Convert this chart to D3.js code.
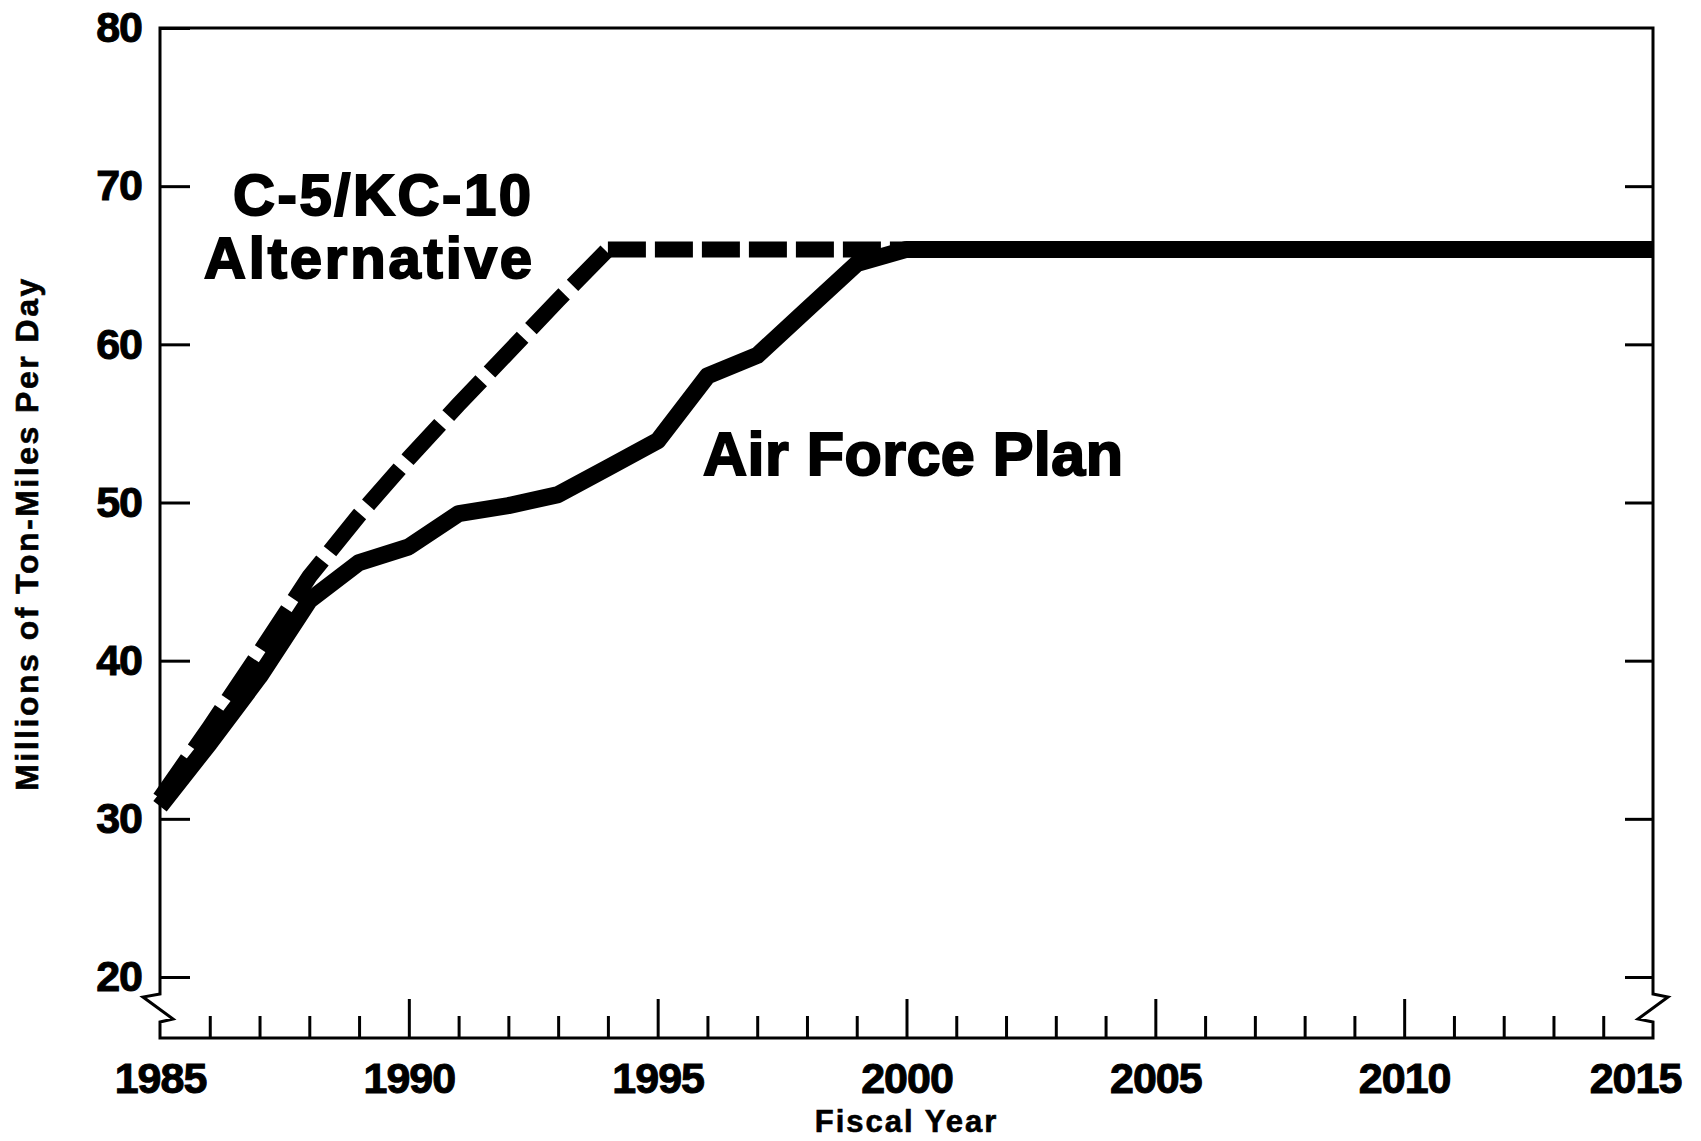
<!DOCTYPE html>
<html>
<head>
<meta charset="utf-8">
<script src="https://cdn.jsdelivr.net/npm/d3@7"></script>
<style>
  html, body { margin: 0; padding: 0; background: #fff; }
  svg { display: block; font-family: "Liberation Sans", Arial, sans-serif; font-weight: bold; }
</style>
</head>
<body>
<div id="mainDiv"></div>
<script>
// Values
let years = [1985, 1986, 1987, 1988, 1989, 1990, 1991, 1992, 1993, 1994,
  1995, 1996, 1997, 1998, 1999, 2000, 2001, 2002, 2003, 2004, 2005,
  2006, 2007, 2008, 2009, 2010, 2011, 2012, 2013, 2014, 2015];
let airForcePlan = [30.8, 34.8, 39.0, 43.8, 46.2, 47.2, 49.3, 49.8, 50.5, 52.2,
  53.9, 58.0, 59.3, 62.2, 65.1, 66.0, 66.0, 66.0, 66.0, 66.0, 66.0,
  66.0, 66.0, 66.0, 66.0, 66.0, 66.0, 66.0, 66.0, 66.0, 66.0];
let alternativeYears = [1985, 1986, 1987, 1988, 1989, 1990, 1991, 1992, 1993, 1994,
  1995, 1996, 1997, 1998, 1999, 2000];
let alternative = [31.3, 35.8, 40.5, 45.3, 49.2, 52.8, 56.2, 59.5, 62.8, 66.0,
  66.0, 66.0, 66.0, 66.0, 66.0, 66.0];
let yTicks = [20, 30, 40, 50, 60, 70, 80];
let majorYears = [1985, 1990, 1995, 2000, 2005, 2010, 2015];
let minorYears = [1986, 1987, 1988, 1989, 1991, 1992, 1993, 1994, 1996, 1997,
  1998, 1999, 2001, 2002, 2003, 2004, 2006, 2007, 2008, 2009, 2011, 2012,
  2013, 2014];

let chartSize = { width: 1701, height: 1141, left: 160, right: 1653, top: 28, y20: 977, bottom: 1038 };

const svg = d3.select("#mainDiv")
  .append("svg")
  .attr("width", chartSize.width)
  .attr("height", chartSize.height)
  .attr("viewBox", [0, 0, chartSize.width, chartSize.height]);

let x = d3.scaleLinear()
  .domain([1985, 2015])
  .range([chartSize.left, chartSize.right]);

let y = d3.scaleLinear()
  .domain([20, 80])
  .range([chartSize.y20, chartSize.top]);

// frame with axis breaks at the bottom corners
let x0 = x(1985), x1 = x(2015), yb = chartSize.bottom;
let frame = d3.path();
frame.moveTo(x0, yb);
frame.lineTo(x0, yb - 16);
frame.lineTo(x0 + 13, yb - 19);
frame.lineTo(x0 - 17, yb - 41);
frame.lineTo(x0, yb - 44);
frame.lineTo(x0, y(80));
frame.lineTo(x1, y(80));
frame.lineTo(x1, yb - 44);
frame.lineTo(x1 + 15, yb - 41);
frame.lineTo(x1 - 15, yb - 19);
frame.lineTo(x1, yb - 16);
frame.lineTo(x1, yb);
frame.closePath();

svg.append("path")
  .attr("d", frame.toString())
  .attr("fill", "none")
  .attr("stroke", "#000")
  .attr("stroke-width", 3)
  .attr("stroke-linejoin", "miter");

// y axis, ticks pointing inward
let yAxis = g => g
  .attr("transform", `translate(${x0},0)`)
  .call(d3.axisLeft(y).tickValues(yTicks).tickSize(-30).tickPadding(18))
  .call(g => g.select(".domain").remove());

let yAxisRight = g => g
  .attr("transform", `translate(${x1},0)`)
  .call(d3.axisRight(y).tickValues(yTicks.slice(0, -1)).tickSize(-28).tickFormat(""))
  .call(g => g.select(".domain").remove());

let xAxisMinor = g => g
  .attr("transform", `translate(0,${yb})`)
  .call(d3.axisBottom(x).tickValues(minorYears).tickSize(-22).tickFormat(""))
  .call(g => g.select(".domain").remove());

let xAxis = g => g
  .attr("transform", `translate(0,${yb})`)
  .call(d3.axisBottom(x).tickValues(majorYears).tickSize(-39).tickPadding(24).tickFormat(d3.format("d")))
  .call(g => g.select(".domain").remove())
  .call(g => g.selectAll(".tick line").filter(d => d == 1985 || d == 2015).remove())
  .call(g => g.selectAll(".tick text").filter(d => d == 2015).attr("dx", -18));

svg.append("g").call(yAxis);
svg.append("g").call(yAxisRight);
svg.append("g").call(xAxisMinor);
svg.append("g").call(xAxis);

svg.selectAll(".tick line")
  .attr("stroke", "#000")
  .attr("stroke-width", 3);

svg.selectAll(".tick text")
  .attr("fill", "#000")
  .attr("stroke", "#000")
  .attr("stroke-width", 1)
  .attr("font-family", "'Liberation Sans', Arial, sans-serif")
  .attr("font-weight", "bold")
  .attr("font-size", 43)
  .attr("letter-spacing", -1);

// series
let line = d3.line()
  .x(d => x(d[0]))
  .y(d => y(d[1]));

let alternativePoints = d3.zip(alternativeYears, alternative);
let peak = alternative.indexOf(d3.max(alternative));

// rising part of the dashed line has longer dashes than the flat part
svg.append("path")
  .datum(alternativePoints.slice(0, peak + 1))
  .attr("d", line)
  .attr("fill", "none")
  .attr("stroke", "#000")
  .attr("stroke-width", 16)
  .attr("stroke-dasharray", "48,12");

svg.append("path")
  .datum(alternativePoints.slice(peak))
  .attr("d", line)
  .attr("fill", "none")
  .attr("stroke", "#000")
  .attr("stroke-width", 16)
  .attr("stroke-dasharray", "38,9");

svg.append("path")
  .datum(d3.zip(years, airForcePlan))
  .attr("d", line)
  .attr("fill", "none")
  .attr("stroke", "#000")
  .attr("stroke-width", 17)
  .attr("stroke-linejoin", "round");

// labels
let labelText = (txt, px, py, size, len) => svg.append("text")
  .attr("x", px)
  .attr("y", py)
  .attr("font-size", size)
  .attr("textLength", len)
  .attr("lengthAdjust", "spacing")
  .attr("fill", "#000")
  .attr("stroke", "#000")
  .attr("stroke-width", 2)
  .text(txt);

labelText("C-5/KC-10", 233, 215, 58, 298);
labelText("Alternative", 204, 278, 58, 328);
labelText("Air Force Plan", 703, 475, 61, 420);

svg.append("text")
  .attr("x", x(2000))
  .attr("y", 1132)
  .attr("text-anchor", "middle")
  .attr("font-size", 31)
  .attr("letter-spacing", 2)
  .attr("stroke", "#000")
  .attr("stroke-width", 0.6)
  .text("Fiscal Year");

svg.append("text")
  .attr("transform", `translate(38,${y(50) + 31}) rotate(-90)`)
  .attr("text-anchor", "middle")
  .attr("font-size", 32)
  .attr("letter-spacing", 2.5)
  .attr("stroke", "#000")
  .attr("stroke-width", 0.6)
  .text("Millions of Ton-Miles Per Day");
</script>
</body>
</html>
